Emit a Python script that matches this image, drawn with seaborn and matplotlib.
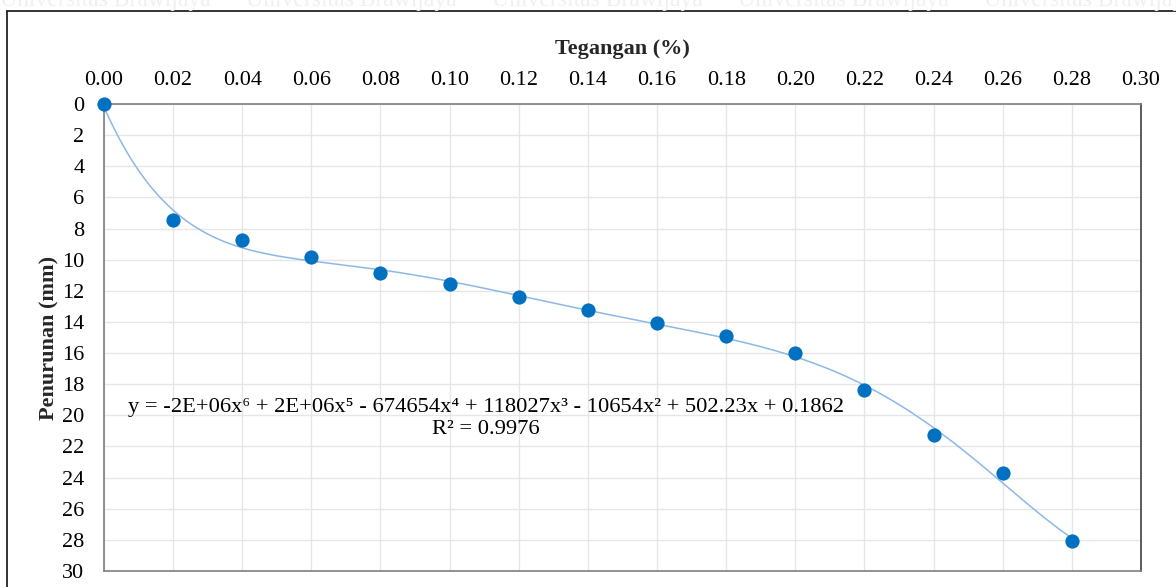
import numpy as np
import pandas as pd
import matplotlib
matplotlib.use("Agg")
import matplotlib.pyplot as plt
from matplotlib.lines import Line2D
import seaborn as sns

# Measured strain (%) and settlement (mm)
tegangan = [0.00, 0.02, 0.04, 0.06, 0.08, 0.10, 0.12, 0.14,
            0.16, 0.18, 0.20, 0.22, 0.24, 0.26, 0.28]
penurunan = [0.00, 7.45, 8.73, 9.83, 10.85, 11.57, 12.42, 13.23,
             14.04, 14.92, 15.97, 18.37, 21.28, 23.72, 28.07]

x_ticks = [0.00, 0.02, 0.04, 0.06, 0.08, 0.10, 0.12, 0.14,
           0.16, 0.18, 0.20, 0.22, 0.24, 0.26, 0.28, 0.30]
y_ticks = [0, 2, 4, 6, 8, 10, 12, 14, 16, 18, 20, 22, 24, 26, 28, 30]

equation = ("y = -2E+06x\u2076 + 2E+06x\u2075 - 674654x\u2074 + 118027x\u00b3 "
            "- 10654x\u00b2 + 502.23x + 0.1862")
r_squared = "R\u00b2 = 0.9976"

sns.set_theme(style="whitegrid")
plt.rcParams["font.family"] = ["Liberation Serif", "DejaVu Serif"]

df = pd.DataFrame({"Tegangan": tegangan, "Penurunan": penurunan})

# 6th-order polynomial trendline through the measurements
coef = np.polyfit(df["Tegangan"], df["Penurunan"], 6)
xs = np.linspace(min(tegangan), max(tegangan), 300)
trend = pd.DataFrame({"Tegangan": xs, "Penurunan": np.polyval(coef, xs)})

fig = plt.figure(figsize=(11.76, 5.87), dpi=100)
ax = fig.add_axes([0.0884, 0.0273, 0.9702 - 0.0884, 0.8228 - 0.0273])

sns.lineplot(data=trend, x="Tegangan", y="Penurunan", ax=ax,
             color="#8db8e6", linewidth=1.1, zorder=2)
sns.scatterplot(data=df, x="Tegangan", y="Penurunan", ax=ax,
                color="#0070c0", s=105, edgecolor="#0070c0", linewidth=0,
                zorder=3, clip_on=False)

ax.set_xlim(0, 0.30)
ax.set_ylim(30, 0)
ax.set_xticks(x_ticks)
ax.set_yticks(y_ticks)
ax.set_xticklabels([f"{v:.2f}" for v in x_ticks])
ax.set_yticklabels([str(v) for v in y_ticks])

ax.xaxis.tick_top()
ax.xaxis.set_label_position("top")
ax.tick_params(axis="x", length=0, pad=10, labelsize=16, colors="#000000")
ax.tick_params(axis="y", length=0, pad=14, labelsize=16, colors="#000000")

ax.set_xlabel("Tegangan (%)", fontsize=16, fontweight="bold", labelpad=12)
ax.set_ylabel("Penurunan (mm)", fontsize=16, fontweight="bold", labelpad=2)

ax.grid(True, color="#e6e6e6", linewidth=1.0)
ax.set_facecolor("white")
for side in ["top", "left", "bottom"]:
    ax.spines[side].set_color("#7f7f7f")
    ax.spines[side].set_linewidth(1.2)
ax.spines["right"].set_color("#404040")
ax.spines["right"].set_linewidth(1.2)

ax.text(0.1105, 20.2, equation + "\n" + r_squared, ha="center", va="center",
        fontsize=16.2, linespacing=1.2, color="#000000", zorder=4)

# outer chart frame (left and top edges)
fig.add_artist(Line2D([0.006, 0.006], [0.0, 0.9812], color="#222222",
                      linewidth=1.3, transform=fig.transFigure))
fig.add_artist(Line2D([0.006, 1.0], [0.9812, 0.9812], color="#222222",
                      linewidth=1.3, transform=fig.transFigure))

# faint header text above the frame
fig.text(0.0, 0.999, "Universitas Brawijaya      Universitas Brawijaya      "
         "Universitas Brawijaya      Universitas Brawijaya      Universitas Brawijaya",
         ha="left", va="center", fontsize=17, color="#f0f0f0")

fig.savefig("out.png", dpi=100)
